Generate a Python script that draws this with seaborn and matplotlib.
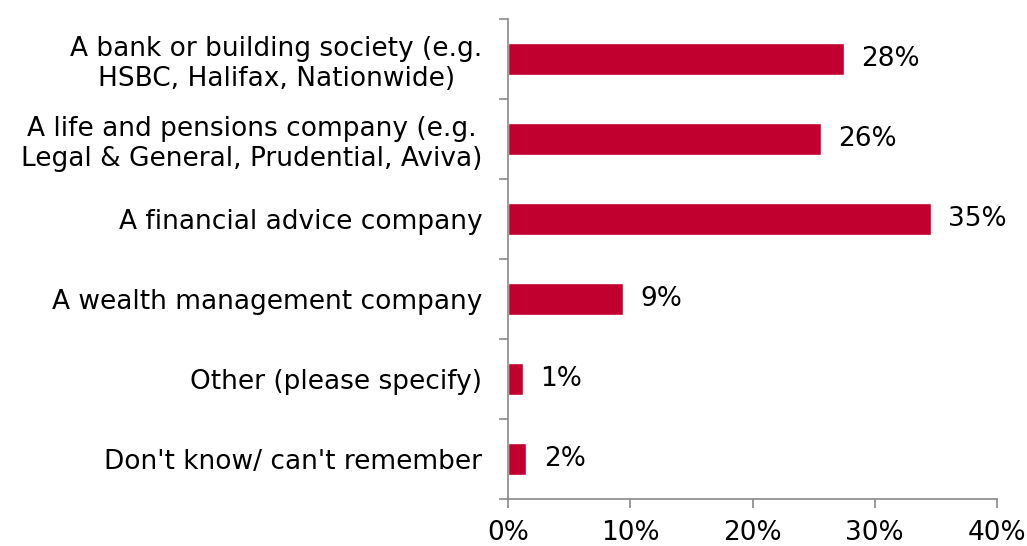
import matplotlib
matplotlib.use("Agg")
import matplotlib.pyplot as plt
import seaborn as sns
import pandas as pd
import numpy as np
from matplotlib.ticker import FixedLocator, PercentFormatter

# Where respondents got their advice (share of respondents, %)
categories = [
    "A bank or building society (e.g.\nHSBC, Halifax, Nationwide)",
    "A life and pensions company (e.g.\nLegal & General, Prudential, Aviva)",
    "A financial advice company",
    "A wealth management company",
    "Other (please specify)",
    "Don't know/ can't remember",
]
shares = [27.5, 25.6, 34.6, 9.4, 1.2, 1.5]
x_ticks = [0, 10, 20, 30, 40]

df = pd.DataFrame({"category": categories, "share": shares})

sns.set_theme(style="white")
plt.rcParams["font.family"] = ["DejaVu Sans"]

BAR = "#C1002F"
AXIS = "#898989"
FS = 19

fig = plt.figure(figsize=(10.27, 5.46), dpi=100)
ax = fig.add_axes([508 / 1027, 1 - 499 / 546, (997 - 508) / 1027, (499 - 19) / 546])

sns.barplot(data=df, x="share", y="category", orient="h", color=BAR,
            saturation=1, width=0.41, ax=ax)

# value labels at the end of each bar
for cont in ax.containers:
    ax.bar_label(cont, labels=[f"{v:.0f}%" for v in shares],
                 padding=12.5, fontsize=FS, color="black")

ax.set_xlim(0, 40)
ax.set_ylim(len(categories) - 0.5, -0.5)
ax.xaxis.set_major_locator(FixedLocator(x_ticks))
ax.xaxis.set_major_formatter(PercentFormatter(decimals=0))
ax.set_xlabel("")
ax.set_ylabel("")

for s in ["top", "right"]:
    ax.spines[s].set_visible(False)
for s in ["left", "bottom"]:
    ax.spines[s].set_color(AXIS)
    ax.spines[s].set_linewidth(1.2)

# category labels sit between boundary tick marks
ax.yaxis.set_minor_locator(FixedLocator(np.arange(-0.5, len(categories), 1.0)))
ax.tick_params(axis="y", which="major", length=0, pad=18.5, labelsize=FS,
               labelcolor="black")
ax.tick_params(axis="y", which="minor", left=True, length=6.5, width=1.2,
               color=AXIS, direction="out")
ax.tick_params(axis="x", which="major", bottom=True, length=6.5, width=1.2,
               color=AXIS, direction="out", pad=8.5, labelsize=FS,
               labelcolor="black")
for lab in ax.get_yticklabels():
    lab.set_multialignment("center")

fig.savefig("out.png", dpi=100, facecolor="white")
